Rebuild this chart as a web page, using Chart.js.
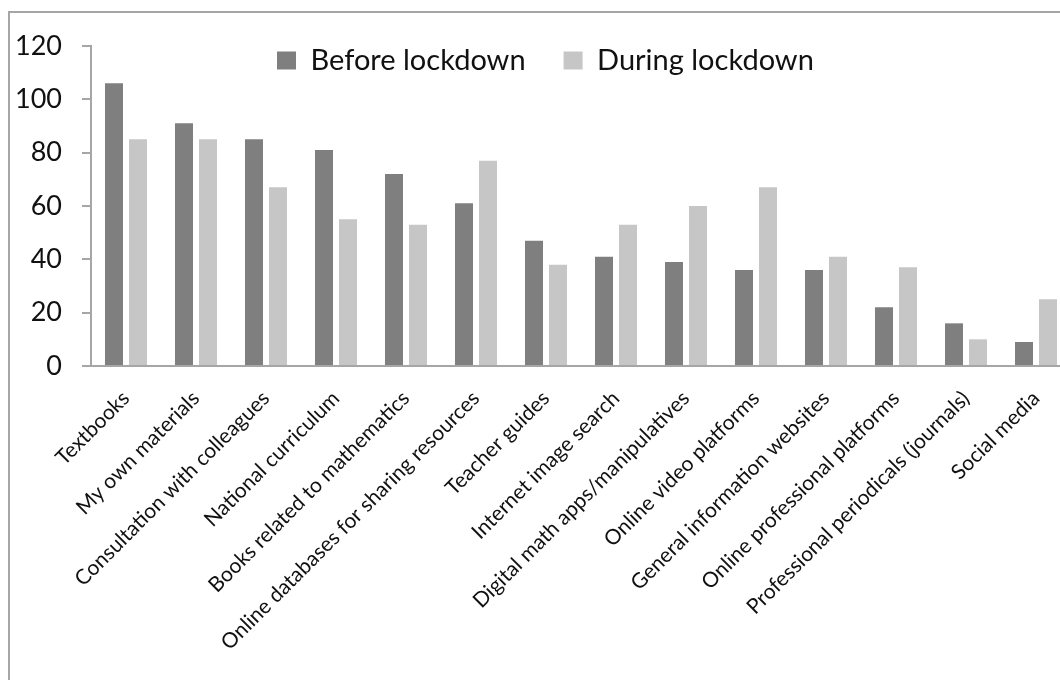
<!DOCTYPE html>
<html><head><meta charset="utf-8">
<script src="https://cdn.jsdelivr.net/npm/chart.js@4.4.1/dist/chart.umd.min.js"></script>
<style>
html,body{margin:0;padding:0;background:#fff;overflow:hidden;width:1060px;height:680px;}
#frame{position:absolute;left:8px;top:11px;width:1200px;height:800px;border:2px solid #a6a6a6;box-sizing:border-box;}
#c{position:absolute;left:0;top:0;}
</style></head><body>
<div id="frame"></div>
<canvas id="c" width="1080" height="680"></canvas>
<script>
const categories = ["Textbooks","My own materials","Consultation with colleagues","National curriculum","Books related to mathematics","Online databases for sharing resources","Teacher guides","Internet image search","Digital math apps/manipulatives","Online video platforms","General information websites","Online professional platforms","Professional periodicals (journals)","Social media"];
const beforeLockdown = [106,91,85,81,72,61,47,41,39,36,36,22,16,9];
const duringLockdown = [85,85,67,55,53,77,38,53,60,67,41,37,10,25];
const yTicks = [0,20,40,60,80,100,120];

const LEG_X = 277, LEG_Y = 46;
const legendPlace = {
  id:'legendPlace',
  beforeLayout(chart){
    const lg = chart.legend;
    if (lg && !lg._patched){
      const f = lg.fit.bind(lg);
      lg.fit = function(){ f(); this._realH = this.height; this.height = 0; };
      lg._patched = true;
    }
  },
  afterLayout(chart){
    const lg = chart.legend; if(!lg) return;
    const pad = lg.options.labels.padding;
    const w = lg.right - lg.left;
    const h = lg._realH || 80;
    lg.left = LEG_X - pad; lg.right = lg.left + w;
    lg.top = LEG_Y - pad; lg.height = h; lg.bottom = lg.top + h;
  }
};

Chart.defaults.font.family = 'Lato';
Chart.defaults.color = '#111111';
new Chart(document.getElementById('c'), {
  type:'bar',
  data:{
    labels: categories,
    datasets:[
      {label:'Before lockdown', data: beforeLockdown, backgroundColor:'#7f7f7f', borderWidth:0},
      {label:'During lockdown', data: duringLockdown, backgroundColor:'#c6c6c6', borderWidth:0}
    ]
  },
  options:{
    responsive:false, animation:false, devicePixelRatio:1,
    categoryPercentage:0.686, barPercentage:0.75,
    layout:{padding:{top:46,left:0,right:9,bottom:0}},
    plugins:{
      legend:{position:'top', align:'start',
        labels:{font:{size:29}, boxWidth:19, boxHeight:18, padding:38, color:'#111111'}},
      tooltip:{enabled:false}
    },
    scales:{
      x:{
        grid:{display:true, drawOnChartArea:false, drawTicks:false, color:'#a6a6a6'},
        border:{display:true, color:'#a6a6a6', width:2},
        ticks:{font:{size:21}, maxRotation:45, minRotation:45, autoSkip:false, padding:20, color:'#111111'},
        afterFit(s){ s.height = 314; }
      },
      y:{
        min:0, max:120,
        afterBuildTicks(s){ s.ticks = yTicks.map(v=>({value:v})); },
        grid:{display:true, drawOnChartArea:false, drawTicks:true, tickLength:9, color:'#a6a6a6', lineWidth:2},
        border:{display:true, color:'#a6a6a6', width:2},
        ticks:{font:{size:27}, padding:20, color:'#111111'},
        afterFit(s){ s.width = 91; }
      }
    }
  },
  plugins:[legendPlace]
});
</script>
</body></html>
